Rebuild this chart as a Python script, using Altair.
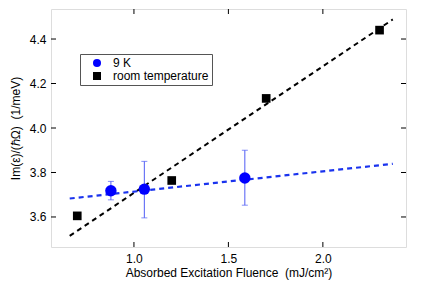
import altair as alt
import pandas as pd

# ---- data ----
blue_x = [0.878, 1.055, 1.587]
blue_y = [3.718, 3.725, 3.775]
blue_lo = [3.677, 3.596, 3.653]
blue_hi = [3.760, 3.850, 3.900]

black_x = [0.70, 1.20, 1.70, 2.30]
black_y = [3.605, 3.764, 4.133, 4.44]

blue_fit_x = [0.66, 2.37]
blue_fit_y = [3.683, 3.839]
black_fit_x = [0.66, 2.37]
black_fit_y = [3.515, 4.488]

x_ticks = [1.0, 1.5, 2.0]
y_ticks = [3.6, 3.8, 4.0, 4.2, 4.4]

series = ["9 K", "room temperature"]
x_title = "Absorbed Excitation Fluence\u00a0 (mJ/cm\u00b2)"
y_title = "Im(\u03b5)/(\u210f\u03a9)\u00a0 (1/meV)"

W, H = 355, 238
FONT = "Liberation Sans"
FS = 12

xs = alt.Scale(domain=[0.561, 2.44], nice=False, zero=False)
ys = alt.Scale(domain=[3.465, 4.535], nice=False, zero=False)

blue_pts = pd.DataFrame({"x": blue_x, "y": blue_y, "s": [series[0]] * len(blue_x)})
black_pts = pd.DataFrame({"x": black_x, "y": black_y, "s": [series[1]] * len(black_x)})
err = pd.DataFrame({"x": blue_x, "lo": blue_lo, "hi": blue_hi})
fit_blue = pd.DataFrame({"x": blue_fit_x, "y": blue_fit_y})
fit_black = pd.DataFrame({"x": black_fit_x, "y": black_fit_y})
xt = pd.DataFrame({"x": x_ticks})
yt = pd.DataFrame({"y": y_ticks})

xaxis = alt.Axis(values=x_ticks, format=".1f", ticks=False, domain=False, grid=False,
                 labelPadding=6, titlePadding=3, labelFontSize=FS, titleFontSize=FS,
                 labelFont=FONT, titleFont=FONT, titleFontWeight="normal",
                 labelColor="black", titleColor="black", title=x_title)
yaxis = alt.Axis(values=y_ticks, format=".1f", ticks=False, domain=False, grid=False,
                 labelPadding=5, titlePadding=7, labelFontSize=FS, titleFontSize=FS,
                 labelFont=FONT, titleFont=FONT, titleFontWeight="normal",
                 labelColor="black", titleColor="black", title=y_title)

black_line = alt.Chart(fit_black).mark_line(color="black", strokeWidth=2, strokeDash=[5, 4]).encode(
    x=alt.X("x:Q", scale=xs, axis=xaxis),
    y=alt.Y("y:Q", scale=ys, axis=yaxis),
)
blue_line = alt.Chart(fit_blue).mark_line(color="#1a33ee", strokeWidth=2.2, strokeDash=[5, 4]).encode(
    x=alt.X("x:Q", scale=xs), y=alt.Y("y:Q", scale=ys)
)

err_rule = alt.Chart(err).mark_rule(color="#4f5cf5", strokeWidth=1).encode(
    x=alt.X("x:Q", scale=xs), y=alt.Y("lo:Q", scale=ys), y2="hi:Q"
)
cap_lo = alt.Chart(err).mark_tick(color="#4f5cf5", thickness=1, size=6, orient="horizontal").encode(
    x=alt.X("x:Q", scale=xs), y=alt.Y("lo:Q", scale=ys)
)
cap_hi = alt.Chart(err).mark_tick(color="#4f5cf5", thickness=1, size=6, orient="horizontal").encode(
    x=alt.X("x:Q", scale=xs), y=alt.Y("hi:Q", scale=ys)
)

color_enc = alt.Color("s:N", scale=alt.Scale(domain=series, range=["#0000ff", "black"]), legend=alt.Legend(
    title=None, orient="none", legendX=29, legendY=45,
    strokeColor="#555555", fillColor="white", padding=3,
    labelFont=FONT, labelFontSize=FS, labelColor="black",
    symbolSize=64, symbolOffset=8, rowPadding=1, labelOffset=10, symbolStrokeWidth=0,
))
shape_enc = alt.Shape("s:N", scale=alt.Scale(domain=series, range=["circle", "square"]), legend=None)

blue_points = alt.Chart(blue_pts).mark_point(filled=True, opacity=1, size=130).encode(
    x=alt.X("x:Q", scale=xs), y=alt.Y("y:Q", scale=ys), color=color_enc, shape=shape_enc
)
black_points = alt.Chart(black_pts).mark_point(filled=True, opacity=1, size=75).encode(
    x=alt.X("x:Q", scale=xs), y=alt.Y("y:Q", scale=ys), color=color_enc, shape=shape_enc
)

tick_bottom = alt.Chart(xt).mark_rule(color="black").encode(
    x=alt.X("x:Q", scale=xs), y=alt.value(H), y2=alt.value(H - 5)
)
tick_top = alt.Chart(xt).mark_rule(color="black").encode(
    x=alt.X("x:Q", scale=xs), y=alt.value(0), y2=alt.value(5)
)
tick_left = alt.Chart(yt).mark_rule(color="black").encode(
    y=alt.Y("y:Q", scale=ys), x=alt.value(0), x2=alt.value(5)
)
tick_right = alt.Chart(yt).mark_rule(color="black").encode(
    y=alt.Y("y:Q", scale=ys), x=alt.value(W - 5), x2=alt.value(W)
)

chart = alt.layer(
    black_line, blue_line, err_rule, cap_lo, cap_hi, blue_points, black_points,
    tick_bottom, tick_top, tick_left, tick_right
).properties(
    width=W, height=H,
    autosize=alt.AutoSizeParams(type="none"),
    padding={"left": 43, "top": 1, "right": 20, "bottom": 40},
).configure_view(
    stroke="black", strokeWidth=1.2
).configure(background="white")

chart.save("out.html", embed_options={"renderer": "svg", "actions": False})
